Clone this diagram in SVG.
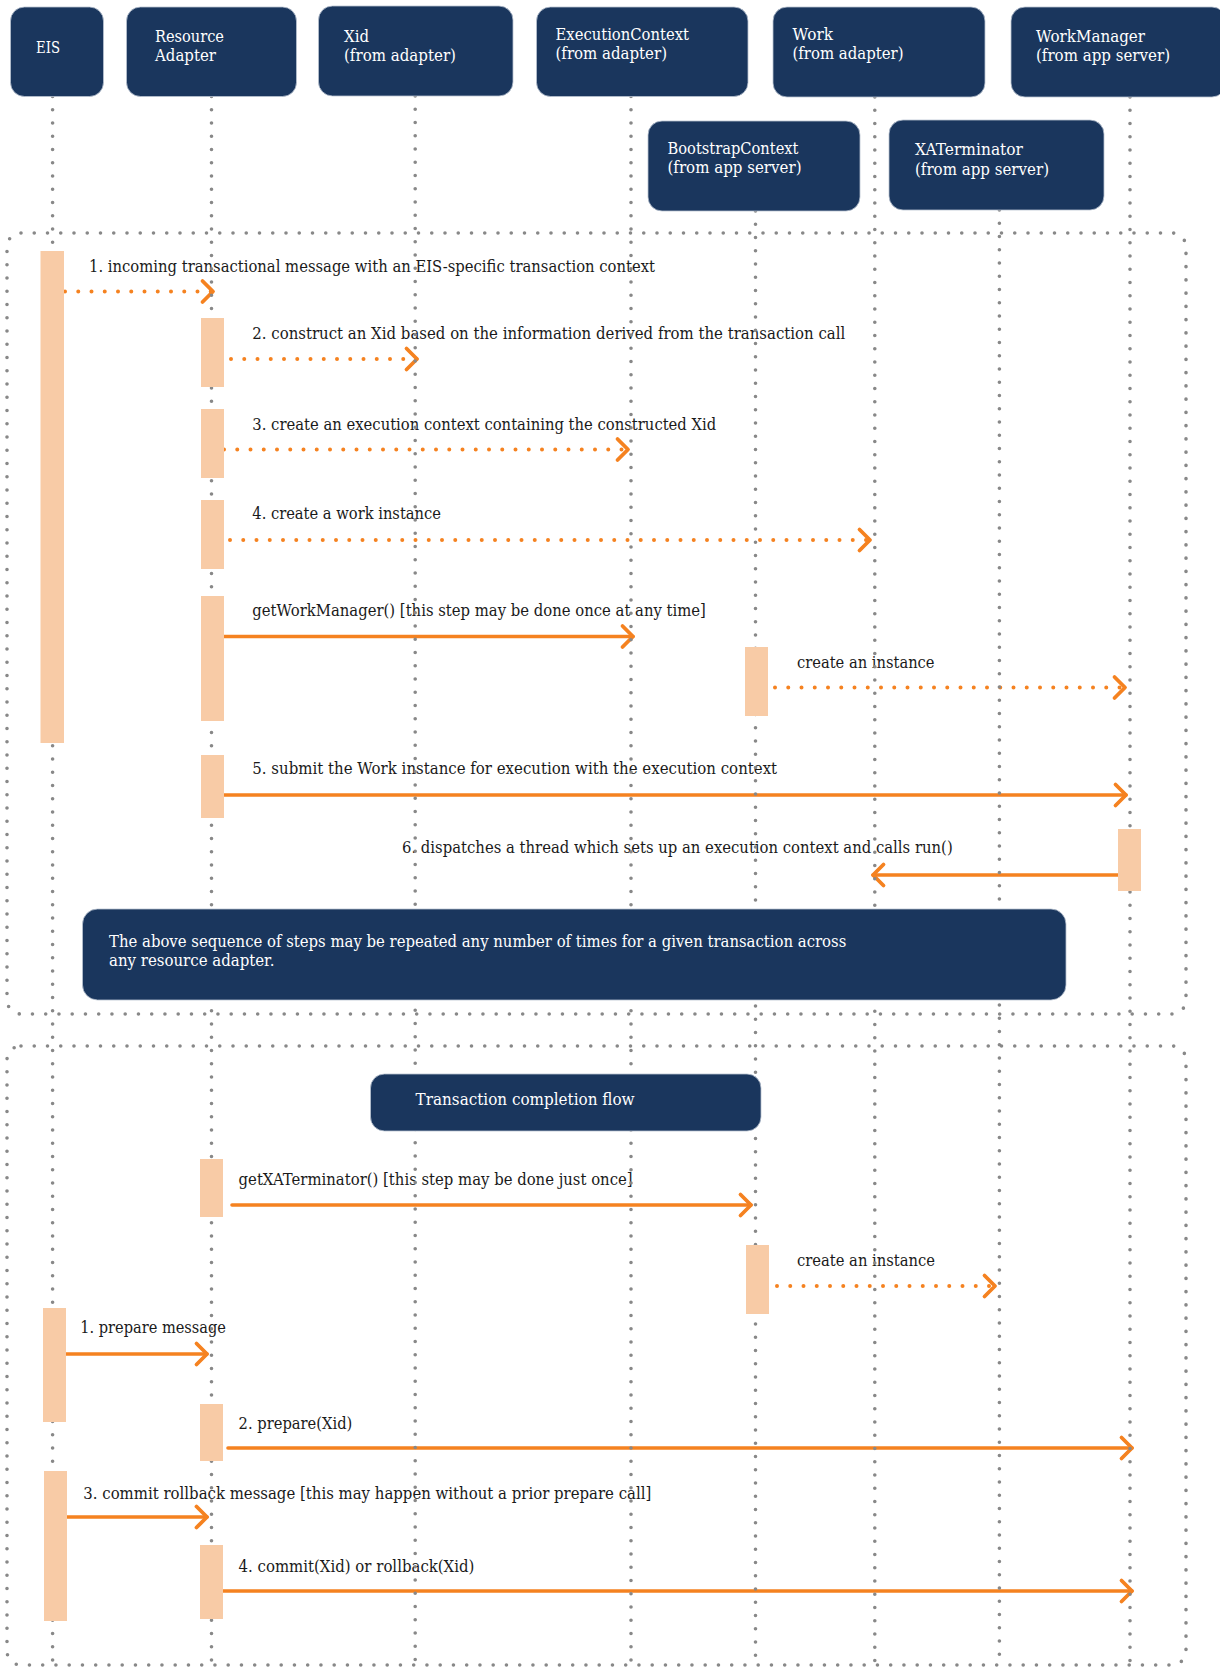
<svg xmlns="http://www.w3.org/2000/svg" width="1220" height="1668" viewBox="0 0 1220 1668">
<defs>
<style>
.box{fill:#1a365d;stroke:#b9c3d1;stroke-width:0.8}
.lbl{font-family:"DejaVu Serif","Liberation Serif",serif;font-size:16.5px;fill:#ffffff}
.msg{font-family:"DejaVu Serif","Liberation Serif",serif;font-size:16.5px;fill:#1a1a1a}
.dot{stroke:#888888;stroke-width:3.6;stroke-dasharray:0 13.25;stroke-linecap:round;fill:none}
.act{fill:#f8cba6}
.sync{stroke:#f58220;stroke-width:3.6;stroke-linecap:round;fill:none;marker-end:url(#arr)}
.async{stroke:#f58220;stroke-width:4;stroke-dasharray:0 13.25;stroke-linecap:round;fill:none;marker-end:url(#arr)}
</style>
<marker id="arr" markerUnits="userSpaceOnUse" markerWidth="32" markerHeight="32" viewBox="-16 -16 32 32" refX="0" refY="0" orient="auto">
<path d="M-10.5,-10.5 L0,0 L-10.5,10.5" fill="none" stroke="#f58220" stroke-width="3.8" stroke-linecap="round" stroke-linejoin="round"/>
</marker>
</defs>

<g id="frames">
<rect class="dot" x="7" y="233" width="1179" height="781" rx="14"/>
<rect class="dot" x="7" y="1046" width="1179" height="619" rx="14"/>
</g>

<g id="connectors">
<path class="async" d="M65,291.5 H213"/>
<path class="async" d="M231,359 H417"/>
<path class="async" d="M224,449.5 H628"/>
<path class="async" d="M230,540 H870"/>
<path class="sync" d="M224,636.5 H633"/>
<path class="async" d="M775,687.5 H1125"/>
<path class="sync" d="M224,795 H1126"/>
<path class="sync" d="M1118,875 H873"/>
<path class="sync" d="M232,1205 H751"/>
<path class="async" d="M777,1286 H995"/>
<path class="sync" d="M66,1354 H207"/>
<path class="sync" d="M228,1448 H1132"/>
<path class="sync" d="M67,1517 H207"/>
<path class="sync" d="M222,1591 H1132"/>
<g id="connector-labels">
<text class="msg" x="89" y="271.5" textLength="566" lengthAdjust="spacingAndGlyphs">1. incoming transactional message with an EIS-specific transaction context</text>
<text class="msg" x="252.3" y="339" textLength="593" lengthAdjust="spacingAndGlyphs">2. construct an Xid based on the information derived from the transaction call</text>
<text class="msg" x="252.3" y="430" textLength="464" lengthAdjust="spacingAndGlyphs">3. create an execution context containing the constructed Xid</text>
<text class="msg" x="252.3" y="519" textLength="188.6" lengthAdjust="spacingAndGlyphs">4. create a work instance</text>
<text class="msg" x="252.3" y="615.5" textLength="453.6" lengthAdjust="spacingAndGlyphs">getWorkManager() [this step may be done once at any time]</text>
<text class="msg" x="797" y="667.5" textLength="137.5" lengthAdjust="spacingAndGlyphs">create an instance</text>
<text class="msg" x="252.3" y="774" textLength="524.8" lengthAdjust="spacingAndGlyphs">5. submit the Work instance for execution with the execution context</text>
<text class="msg" x="402" y="853" textLength="550.7" lengthAdjust="spacingAndGlyphs">6. dispatches a thread which sets up an execution context and calls run()</text>
<text class="msg" x="238.6" y="1184.5" textLength="394" lengthAdjust="spacingAndGlyphs">getXATerminator() [this step may be done just once]</text>
<text class="msg" x="797" y="1266" textLength="138" lengthAdjust="spacingAndGlyphs">create an instance</text>
<text class="msg" x="80.2" y="1332.5" textLength="145.8" lengthAdjust="spacingAndGlyphs">1. prepare message</text>
<text class="msg" x="238.6" y="1429" textLength="113.7" lengthAdjust="spacingAndGlyphs">2. prepare(Xid)</text>
<text class="msg" x="83.3" y="1498.5" textLength="568" lengthAdjust="spacingAndGlyphs">3. commit rollback message [this may happen without a prior prepare call]</text>
<text class="msg" x="238.6" y="1572" textLength="235.8" lengthAdjust="spacingAndGlyphs">4. commit(Xid) or rollback(Xid)</text>
</g>
</g>

<g id="eis">
<line class="dot" x1="52.6" y1="96.5" x2="52.6" y2="1664"/>
<rect class="box" x="10.5" y="7" width="93" height="89.5" rx="14"/>
<text class="lbl" x="36" y="52.5" textLength="24" lengthAdjust="spacingAndGlyphs">EIS</text>
</g>
<g id="resource-adapter">
<line class="dot" x1="211.5" y1="96.5" x2="211.5" y2="1664"/>
<rect class="box" x="126.5" y="7" width="170" height="89.5" rx="14"/>
<text class="lbl" x="155" y="41.5" textLength="69" lengthAdjust="spacingAndGlyphs">Resource</text>
<text class="lbl" x="155" y="60.5" textLength="61" lengthAdjust="spacingAndGlyphs">Adapter</text>
</g>
<g id="xid">
<line class="dot" x1="415.2" y1="96" x2="415.2" y2="1664"/>
<rect class="box" x="318.5" y="6" width="194.5" height="90" rx="14"/>
<text class="lbl" x="344" y="41.5" textLength="25" lengthAdjust="spacingAndGlyphs">Xid</text>
<text class="lbl" x="344" y="60.5" textLength="112" lengthAdjust="spacingAndGlyphs">(from adapter)</text>
</g>
<g id="execution-context">
<line class="dot" x1="631" y1="96.5" x2="631" y2="1664"/>
<rect class="box" x="536.5" y="7" width="211.5" height="89.5" rx="14"/>
<text class="lbl" x="555.5" y="40" textLength="133.5" lengthAdjust="spacingAndGlyphs">ExecutionContext</text>
<text class="lbl" x="555.5" y="59" textLength="111.5" lengthAdjust="spacingAndGlyphs">(from adapter)</text>
</g>
<g id="work">
<line class="dot" x1="874.8" y1="97" x2="874.8" y2="1664"/>
<rect class="box" x="773" y="7" width="212" height="90" rx="14"/>
<text class="lbl" x="792.5" y="40" textLength="40.5" lengthAdjust="spacingAndGlyphs">Work</text>
<text class="lbl" x="792.5" y="59" textLength="111" lengthAdjust="spacingAndGlyphs">(from adapter)</text>
</g>
<g id="work-manager">
<line class="dot" x1="1130" y1="97" x2="1130" y2="1664"/>
<rect class="box" x="1011" y="7" width="215" height="90" rx="14"/>
<text class="lbl" x="1036" y="41.5" textLength="109" lengthAdjust="spacingAndGlyphs">WorkManager</text>
<text class="lbl" x="1036" y="60.5" textLength="134" lengthAdjust="spacingAndGlyphs">(from app server)</text>
</g>
<g id="bootstrap-context">
<line class="dot" x1="755.5" y1="211" x2="755.5" y2="1664"/>
<rect class="box" x="648" y="121" width="212" height="90" rx="14"/>
<text class="lbl" x="667.5" y="153.5" textLength="131" lengthAdjust="spacingAndGlyphs">BootstrapContext</text>
<text class="lbl" x="667.5" y="172.5" textLength="134" lengthAdjust="spacingAndGlyphs">(from app server)</text>
</g>
<g id="xa-terminator">
<line class="dot" x1="999.4" y1="210" x2="999.4" y2="1664"/>
<rect class="box" x="889" y="120" width="215" height="90" rx="14"/>
<text class="lbl" x="915" y="154.5" textLength="108" lengthAdjust="spacingAndGlyphs">XATerminator</text>
<text class="lbl" x="915" y="174.5" textLength="134" lengthAdjust="spacingAndGlyphs">(from app server)</text>
</g>

<g id="activations">
<rect class="act" x="40.5" y="251" width="23.5" height="492"/>
<rect class="act" x="201" y="318" width="23" height="69"/>
<rect class="act" x="201" y="409" width="23" height="69"/>
<rect class="act" x="201" y="500" width="23" height="69"/>
<rect class="act" x="201" y="596" width="23" height="125"/>
<rect class="act" x="745" y="647" width="23" height="69"/>
<rect class="act" x="201" y="755" width="23" height="63"/>
<rect class="act" x="1118" y="829" width="23" height="62"/>
<rect class="act" x="200" y="1159" width="23" height="58"/>
<rect class="act" x="746" y="1245" width="23" height="69"/>
<rect class="act" x="43" y="1308" width="23" height="114"/>
<rect class="act" x="200" y="1404" width="23" height="57"/>
<rect class="act" x="44" y="1471" width="23" height="150"/>
<rect class="act" x="200" y="1545" width="23" height="74"/>
</g>

<g id="note-repeat">
<rect class="box" x="82.5" y="909" width="983.5" height="91" rx="15"/>
<text class="lbl" x="109" y="946.5" textLength="737.3" lengthAdjust="spacingAndGlyphs">The above sequence of steps may be repeated any number of times for a given transaction across</text>
<text class="lbl" x="109" y="966" textLength="165.4" lengthAdjust="spacingAndGlyphs">any resource adapter.</text>
</g>
<g id="note-completion">
<rect class="box" x="370.5" y="1074" width="390.5" height="57" rx="14"/>
<text class="lbl" x="415.6" y="1104.5" textLength="219" lengthAdjust="spacingAndGlyphs">Transaction completion flow</text>
</g>
</svg>
